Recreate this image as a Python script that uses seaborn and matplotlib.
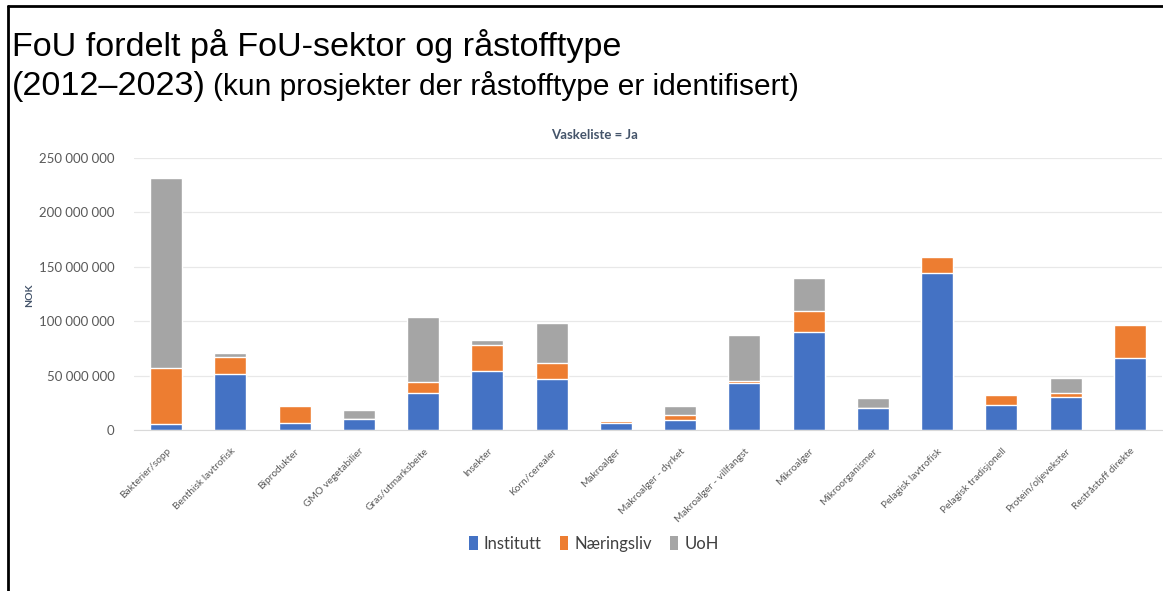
import numpy as np
import matplotlib
matplotlib.use("Agg")
import matplotlib.pyplot as plt
from matplotlib.patches import Patch
from matplotlib.lines import Line2D
import seaborn as sb

# data (mill. NOK)
kategorier = ['Bakterier/sopp', 'Benthisk lavtrofisk', 'Biprodukter', 'GMO vegetabilier',
              'Gras/utmarksbeite', 'Insekter', 'Korn/cerealer', 'Makroalger',
              'Makroalger - dyrket', 'Makroalger - villfangst', 'Mikroalger',
              'Mikroorganismer', 'Pelagisk lavtrofisk', 'Pelagisk tradisjonell',
              'Protein/oljevekster', 'Restråstoff direkte']
institutt = [5.2, 51.2, 6.1, 10.1, 34.4, 54.3, 46.6, 6.1, 8.9, 42.9, 90.5, 19.9, 144.2, 22.7, 30.1, 66.6]
naeringsliv = [51.5, 16.3, 16.3, 0.0, 9.5, 23.9, 15.1, 2.5, 4.6, 2.2, 19.3, 0.0, 14.4, 9.5, 4.3, 29.7]
uoh = [175.3, 3.7, 0.0, 8.0, 59.8, 4.3, 37.1, 0.0, 8.9, 42.3, 29.8, 9.2, 0.0, 0.0, 13.1, 0.0]

farger = ['#4472C4', '#ED7D31', '#A5A5A5']
serier = ['Institutt', 'Næringsliv', 'UoH']

sb.set_style('white')
plt.rcParams['font.family'] = ['Lato', 'DejaVu Sans']

inst = np.array(institutt) * 1e6
naer = np.array(naeringsliv) * 1e6
uo = np.array(uoh) * 1e6

fig = plt.figure(figsize=(11.63, 5.91), dpi=100)
ax = fig.add_axes([134/1163, 1 - 430/591, (1162 - 134)/1163, (430 - 158)/591])

# stacked bars: draw cumulative totals back to front
sb.barplot(x=kategorier, y=inst + naer + uo, color=farger[2], saturation=1, width=0.5, ax=ax)
sb.barplot(x=kategorier, y=inst + naer, color=farger[1], saturation=1, width=0.5, ax=ax)
sb.barplot(x=kategorier, y=inst, color=farger[0], saturation=1, width=0.5, ax=ax)

ax.set_ylim(0, 250e6)
ax.set_xlim(-0.5, 15.5)
ax.set_yticks(np.arange(0, 250e6 + 1, 50e6))
ax.set_yticklabels(['0' if v == 0 else f'{int(v):,}'.replace(',', ' ') for v in ax.get_yticks()])
ax.yaxis.grid(True, color='#E8E8E8', linewidth=0.9)
ax.set_axisbelow(True)
for s in ['top', 'right', 'left']:
    ax.spines[s].set_visible(False)
ax.spines['bottom'].set_color('#D9D9D9')
ax.tick_params(axis='both', length=0, colors='#595959')
ax.tick_params(axis='y', labelsize=9.5, pad=14)
ax.set_xticks(range(len(kategorier)))
ax.set_xticklabels(kategorier, rotation=45, ha='right', rotation_mode='anchor', fontsize=7.3, color='#595959')
ax.tick_params(axis='x', pad=12)
ax.set_xlabel('')
ax.set_ylabel('')

fig.text(30/1163, 1 - 295/591, 'NOK', rotation=90, fontsize=7.5, fontweight='bold',
         color='#44546A', ha='center', va='center')
fig.text(595/1163, 1 - 135/591, 'Vaskeliste = Ja', fontsize=9.5, fontweight='bold',
         color='#44546A', ha='center', va='center')

handles = [Patch(facecolor=c, edgecolor='none') for c in farger]
fig.legend(handles, serier, loc='center', bbox_to_anchor=(594/1163, 1 - 544/591), ncol=3,
           frameon=False, fontsize=12, handlelength=0.5, handleheight=0.9, handletextpad=0.35,
           columnspacing=1.1, labelcolor='#404040')

# title block
t1 = fig.text(12/1163, 1 - 56/591, 'FoU fordelt på FoU-sektor og råstofftype', fontsize=24.6,
              family='Liberation Sans', va='baseline', ha='left', color='black')
t2 = fig.text(12/1163, 1 - 95/591, '(2012–2023)', fontsize=24.6,
              family='Liberation Sans', va='baseline', ha='left', color='black')
fig.canvas.draw()
bb = t2.get_window_extent()
fig.text((bb.x1 + 7) / fig.bbox.width, 1 - 95/591, '(kun prosjekter der råstofftype er identifisert)',
         fontsize=21.5, family='Liberation Sans', va='baseline', ha='left', color='black')

# frame lines (screenshot border)
fig.add_artist(Line2D([8/1163, 1], [1 - 6/591, 1 - 6/591], color='black', linewidth=2))
fig.add_artist(Line2D([8/1163, 8/1163], [0, 1 - 6/591], color='black', linewidth=2))

fig.savefig('out.png', dpi=100)
